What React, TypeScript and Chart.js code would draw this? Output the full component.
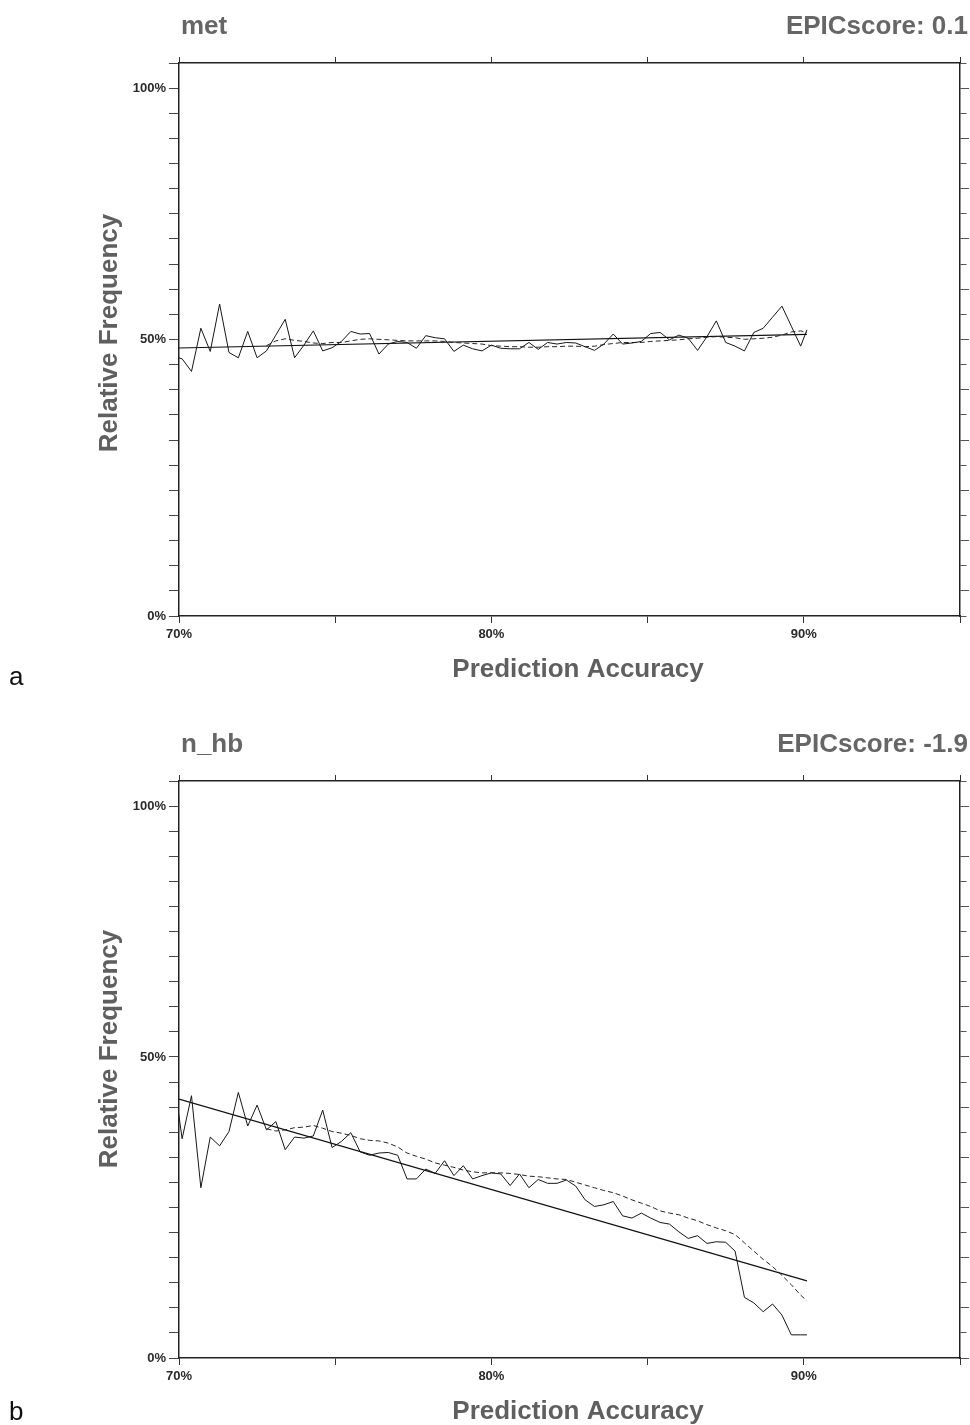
import React, { useEffect, useRef } from 'react';
import { Chart, registerables } from 'chart.js';

Chart.register(...registerables);

// Prediction accuracy (%) of each sample point (first one lies just left of the axis and is clipped)
const ACCURACY = [69.8, 70.1, 70.4, 70.7, 71.0, 71.3, 71.6, 71.9, 72.2, 72.5, 72.8, 73.1, 73.4, 73.7, 74.0, 74.3, 74.6, 74.9, 75.2, 75.5, 75.8, 76.1, 76.4, 76.7, 77.0, 77.3, 77.6, 77.9, 78.2, 78.5, 78.8, 79.1, 79.4, 79.7, 80.0, 80.3, 80.6, 80.9, 81.2, 81.5, 81.8, 82.1, 82.4, 82.7, 83.0, 83.3, 83.6, 83.9, 84.2, 84.5, 84.8, 85.1, 85.4, 85.7, 86.0, 86.3, 86.6, 86.9, 87.2, 87.5, 87.8, 88.1, 88.4, 88.7, 89.0, 89.3, 89.6, 89.9, 90.1];

// Panel a: "met"
const MET_FREQ = [49.3, 48.8, 46.4, 54.6, 50.2, 59.2, 50.0, 49.0, 54.0, 49.0, 50.3, 53.3, 56.3, 49.0, 51.4, 54.1, 50.3, 50.9, 52.1, 54.0, 53.5, 53.6, 49.7, 51.6, 52.1, 51.9, 50.8, 53.2, 52.8, 52.6, 50.2, 51.4, 50.7, 50.3, 51.4, 50.8, 50.7, 50.7, 51.9, 50.6, 51.9, 51.6, 51.9, 51.8, 51.1, 50.4, 51.6, 53.5, 51.6, 51.8, 52.1, 53.6, 53.8, 52.4, 53.3, 52.7, 50.4, 53.0, 56.0, 51.9, 51.2, 50.3, 53.8, 54.6, 56.7, 58.8, 55.0, 51.2, 54.3];
const MET_SMOOTH = [null, null, null, null, null, null, null, null, null, null, 51.3, 52.2, 52.6, 52.3, 52.1, 51.8, 51.7, 51.9, 51.9, 52.2, 52.5, 52.6, 52.5, 52.4, 52.3, 52.2, 52.2, 52.2, 52.2, 52.1, 51.9, 51.8, 51.7, 51.6, 51.3, 51.2, 51.1, 51.1, 51.0, 51.0, 51.1, 51.1, 51.2, 51.2, 51.1, 51.2, 51.5, 51.7, 51.9, 51.9, 51.9, 52.1, 52.2, 52.3, 52.4, 52.6, 52.7, 52.9, 53.0, 52.9, 52.8, 52.5, 52.6, 52.7, 52.9, 53.3, 53.9, 54.1, 53.8];

// Panel b: "n_hb"
const HB_FREQ = [52.0, 39.8, 47.6, 30.9, 40.1, 38.5, 41.1, 48.2, 42.1, 45.9, 41.4, 42.9, 37.8, 40.1, 39.9, 40.3, 45.0, 38.2, 39.3, 40.9, 37.4, 36.8, 37.2, 37.3, 36.8, 32.5, 32.5, 34.3, 33.5, 35.8, 33.1, 34.9, 32.5, 33.1, 33.6, 33.4, 31.3, 33.4, 30.9, 32.4, 31.7, 31.7, 32.3, 31.2, 28.7, 27.5, 27.8, 28.4, 25.8, 25.4, 26.3, 25.4, 24.6, 24.3, 22.9, 21.7, 22.2, 20.8, 21.1, 21.0, 19.4, 11.0, 10.0, 8.4, 9.8, 7.8, 4.2, 4.2, 4.2];
const HB_SMOOTH = [null, null, null, null, null, null, null, null, null, null, 41.6, 41.2, 41.4, 41.8, 41.9, 42.2, 41.7, 41.1, 40.8, 40.4, 39.8, 39.5, 39.4, 39.0, 38.3, 37.2, 36.6, 36.1, 35.4, 35.0, 34.6, 34.1, 33.8, 33.6, 33.6, 33.6, 33.5, 33.3, 33.0, 32.9, 32.7, 32.5, 32.4, 31.9, 31.4, 30.9, 30.4, 30.0, 29.4, 28.7, 28.1, 27.5, 26.7, 26.3, 26.0, 25.4, 24.9, 24.2, 23.6, 23.1, 22.4, 20.9, 19.4, 17.9, 16.6, 15.0, 13.3, 11.4, 10.4];

// Linear fits
const FIT_X = [70, 90.1];
const MET_FIT = [50.85, 53.45];
const HB_FIT = [47.0, 14.0];

// Tick labels
const X_TICK_LABELS = ['70%', '', '80%', '', '90%', ''];
const Y_TICK_LABELS_A = ['0%', '', '', '', '', '', '', '', '', '', '', '50%', '', '', '', '', '', '', '', '', '', '100%', ''];
const Y_TICK_LABELS_B = ['0%', '', '', '', '', '', '', '', '', '', '', '', '50%', '', '', '', '', '', '', '', '', '', '100%', ''];

const FONT = '"Liberation Sans", Arial, Helvetica, sans-serif';

const panelText = {
  id: 'panelText',
  afterDraw(chart: any, _args: any, opts: any) {
    const { ctx, chartArea } = chart;
    ctx.save();
    ctx.fillStyle = '#666666';
    ctx.font = `bold 26px ${FONT}`;
    ctx.textBaseline = 'alphabetic';
    ctx.textAlign = 'left';
    ctx.fillText(opts.name, 181, opts.titleY);
    ctx.textAlign = 'right';
    ctx.fillText(opts.score, 968, opts.titleY);
    ctx.fillStyle = '#5f5f5f';
    ctx.textAlign = 'center';
    ctx.textBaseline = 'middle';
    ctx.fillText('Prediction Accuracy', 578, chartArea.bottom + opts.xTitleOffset);
    ctx.save();
    ctx.translate(110, opts.yTitleY);
    ctx.rotate(-Math.PI / 2);
    ctx.fillText('Relative Frequency', 0, 0);
    ctx.restore();
    ctx.fillStyle = '#111111';
    ctx.font = `26px ${FONT}`;
    ctx.textAlign = 'left';
    ctx.textBaseline = 'alphabetic';
    ctx.fillText(opts.letter, 9, opts.letterY);
    ctx.restore();
  },
};

type PanelProps = {
  top: number;
  height: number;
  plotTop: number;
  plotBottom: number;
  yMax: number;
  yLabels: string[];
  freq: (number | null)[];
  smooth: (number | null)[];
  fit: number[];
  name: string;
  score: string;
  letter: string;
  titleY: number;
  yTitleY: number;
  letterY: number;
};

function Panel(props: PanelProps) {
  const ref = useRef<HTMLCanvasElement>(null);
  useEffect(() => {
    const { height, plotTop, plotBottom, yMax, yLabels, freq, smooth, fit } = props;
    const X_AXIS_H = 40;
    const TOP_AXIS_H = 10;
    const n = yLabels.length - 1;
    const hundredIdx = yLabels.indexOf('100%');
    const buildY = (scale: any) => {
      scale.ticks = yLabels.map((_l, i) => ({ value: (i * yMax) / n }));
    };
    const pts = (ys: (number | null)[]) => ACCURACY.map((x, i) => ({ x, y: ys[i] }));
    const tickFont = { family: FONT, size: 13, weight: 'bold' as const };
    const chart = new Chart(ref.current as HTMLCanvasElement, {
      type: 'line',
      data: {
        datasets: [
          { data: pts(freq) as any, borderColor: '#161616', borderWidth: 1, pointRadius: 0, tension: 0, xAxisID: 'x', yAxisID: 'y' },
          { data: pts(smooth) as any, borderColor: '#262626', borderWidth: 1, borderDash: [5, 3], pointRadius: 0, tension: 0, xAxisID: 'x', yAxisID: 'y' },
          { data: FIT_X.map((x, i) => ({ x, y: fit[i] })) as any, borderColor: '#111111', borderWidth: 1.2, pointRadius: 0, xAxisID: 'x', yAxisID: 'y' },
        ],
      },
      options: {
        animation: false,
        responsive: false,
        events: [],
        layout: { padding: { top: plotTop - TOP_AXIS_H, bottom: height - plotBottom - X_AXIS_H, left: 0, right: 0 } },
        plugins: {
          legend: { display: false },
          tooltip: { enabled: false },
          panelText: {
            name: props.name,
            score: props.score,
            letter: props.letter,
            titleY: props.titleY,
            yTitleY: props.yTitleY,
            letterY: props.letterY,
            xTitleOffset: 54,
          },
        } as any,
        scales: {
          x: {
            type: 'linear',
            position: 'bottom',
            min: 70,
            max: 95,
            afterFit: (s: any) => { s.height = X_AXIS_H; },
            ticks: {
              stepSize: 5,
              autoSkip: false,
              maxRotation: 0,
              padding: 4,
              color: '#2a2a2a',
              font: tickFont,
              callback: (_v: any, i: number) => X_TICK_LABELS[i],
            },
            grid: { drawOnChartArea: false, drawTicks: true, tickLength: 7, color: '#333333', lineWidth: 1 },
            border: { display: true, color: '#222222', width: 1.5 },
          },
          x2: {
            type: 'linear',
            position: 'top',
            min: 70,
            max: 95,
            afterFit: (s: any) => { s.height = TOP_AXIS_H; },
            ticks: { stepSize: 5, display: false },
            grid: { drawOnChartArea: false, drawTicks: true, tickLength: 6, color: '#333333', lineWidth: 1 },
            border: { display: true, color: '#222222', width: 1.5 },
          },
          y: {
            type: 'linear',
            position: 'left',
            min: 0,
            max: yMax,
            afterBuildTicks: buildY,
            afterFit: (s: any) => { s.width = 179; },
            ticks: {
              autoSkip: false,
              padding: 3,
              color: '#2a2a2a',
              font: tickFont,
              callback: (_v: any, i: number) => yLabels[i],
            },
            grid: { drawOnChartArea: false, drawTicks: true, tickLength: 10, color: '#444444', lineWidth: 1 },
            border: { display: true, color: '#222222', width: 1.5 },
          },
          y2: {
            type: 'linear',
            position: 'right',
            min: 0,
            max: yMax,
            afterBuildTicks: buildY,
            afterFit: (s: any) => { s.width = 10; },
            ticks: { display: false },
            grid: {
              drawOnChartArea: false,
              drawTicks: true,
              tickLength: 9,
              color: '#555555',
              lineWidth: 1,
              tickBorderDash: (c: any) => ((c.index - hundredIdx) % 2 === 0 ? [] : [6, 20]),
            },
            border: { display: true, color: '#222222', width: 1.5 },
          },
        },
      } as any,
      plugins: [panelText as any],
    });
    return () => chart.destroy();
  }, []);
  return (
    <canvas
      ref={ref}
      width={970}
      height={props.height}
      style={{ position: 'absolute', left: 0, top: props.top, width: 970, height: props.height }}
    />
  );
}

export default function App() {
  return (
    <div style={{ position: 'absolute', left: 0, top: 0, width: 970, height: 1425, background: '#ffffff' }}>
      <Panel
        top={0}
        height={717}
        plotTop={63}
        plotBottom={616}
        yMax={104.93}
        yLabels={Y_TICK_LABELS_A}
        freq={MET_FREQ}
        smooth={MET_SMOOTH}
        fit={MET_FIT}
        name="met"
        score="EPICscore: 0.1"
        letter="a"
        titleY={34}
        yTitleY={333}
        letterY={685}
      />
      <Panel
        top={717}
        height={708}
        plotTop={64}
        plotBottom={641}
        yMax={104.72}
        yLabels={Y_TICK_LABELS_B}
        freq={HB_FREQ}
        smooth={HB_SMOOTH}
        fit={HB_FIT}
        name="n_hb"
        score="EPICscore: -1.9"
        letter="b"
        titleY={35}
        yTitleY={332}
        letterY={703}
      />
    </div>
  );
}
